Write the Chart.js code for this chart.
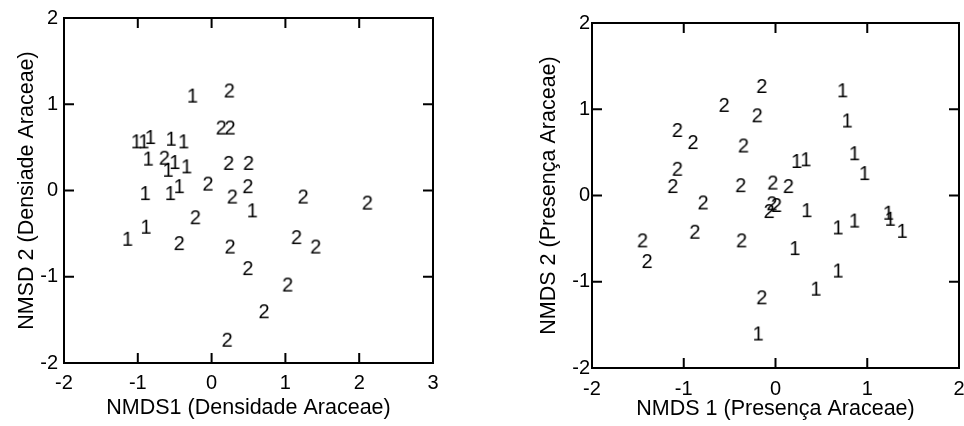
<!DOCTYPE html>
<html><head><meta charset="utf-8">
<script src="https://cdn.jsdelivr.net/npm/chart.js@4/dist/chart.umd.min.js"></script>
<style>
html,body{margin:0;padding:0;background:#fff;}
#wrap{position:relative;width:964px;height:426px;overflow:hidden;}
.c{position:absolute;top:0;width:482px;height:426px;}
</style></head><body>
<div id="wrap">
<div class="c" style="left:0"><canvas id="c1" width="482" height="426"></canvas></div>
<div class="c" style="left:482px"><canvas id="c2" width="482" height="426"></canvas></div>
</div>
<script>
// ---- data: NMDS (Densidade Araceae) ----
const dens1X = [-0.26, -1.02, -0.92, -0.83, -0.55, -0.38, -0.86, -0.59, -0.50, -0.34, -0.90, -0.56, -0.44, 0.55, -0.89, -1.14];
const dens1Y = [1.10, 0.57, 0.57, 0.62, 0.60, 0.57, 0.37, 0.24, 0.33, 0.28, -0.03, -0.03, 0.05, -0.23, -0.42, -0.56];
const dens2X = [0.24, 0.13, 0.25, -0.64, 0.23, 0.50, -0.05, 0.49, 0.28, 1.24, 2.11, -0.22, -0.44, 0.25, 1.15, 1.41, 0.49, 1.03, 0.71, 0.21];
const dens2Y = [1.16, 0.73, 0.73, 0.38, 0.32, 0.32, 0.08, 0.05, -0.07, -0.07, -0.14, -0.31, -0.61, -0.65, -0.54, -0.65, -0.90, -1.09, -1.40, -1.73];
// ---- data: NMDS (Presença Araceae) ----
const pres1X = [0.73, 0.78, 0.23, 0.33, 0.86, 0.97, 0.34, 0.68, 0.86, 1.23, 1.25, 1.38, 0.21, 0.68, 0.44, -0.19];
const pres1Y = [1.22, 0.87, 0.40, 0.42, 0.49, 0.26, -0.17, -0.37, -0.29, -0.20, -0.27, -0.41, -0.61, -0.87, -1.08, -1.60];
const pres2X = [-0.15, -0.56, -0.20, -1.07, -0.90, -0.35, -1.07, -1.12, -0.38, -0.03, 0.14, -0.79, -0.04, 0.01, -0.07, -1.45, -0.88, -0.37, -1.40, -0.15];
const pres2Y = [1.27, 1.05, 0.93, 0.76, 0.62, 0.58, 0.31, 0.11, 0.12, 0.15, 0.11, -0.08, -0.09, -0.11, -0.18, -0.52, -0.42, -0.52, -0.76, -1.18];
// ---- group labels & ticks ----
const groupLabels = ['1', '2'];
const densXTicks = [-2, -1, 0, 1, 2, 3];
const presXTicks = [-2, -1, 0, 1, 2];
const yTicks = [-2, -1, 0, 1, 2];
const densTitles = ['NMDS1 (Densidade Araceae)', 'NMSD 2 (Densiade Araceae)'];
const presTitles = ['NMDS 1 (Presença Araceae)', 'NMDS 2 (Presença Araceae)'];

const FONT = '"Liberation Sans", Arial, Helvetica, sans-serif';

function glyph(ch) {
  const size = 20;
  const c = document.createElement('canvas');
  c.width = 22; c.height = 26;
  const g = c.getContext('2d');
  g.font = size + 'px ' + FONT;
  g.fillStyle = '#000';
  g.textAlign = 'center';
  g.textBaseline = 'alphabetic';
  g.fillText(ch, 11, 13 + 0.716 * size / 2);
  return c;
}

const framePlugin = {
  id: 'frame',
  afterDatasetsDraw(chart) {
    const {ctx, chartArea: a, scales: {x, y}} = chart;
    ctx.save();
    ctx.strokeStyle = '#000';
    ctx.lineWidth = 2;
    ctx.strokeRect(a.left, a.top, a.right - a.left, a.bottom - a.top);
    ctx.beginPath();
    x.ticks.forEach(t => {
      const px = x.getPixelForValue(t.value);
      ctx.moveTo(px, a.bottom); ctx.lineTo(px, a.bottom - 10);
      ctx.moveTo(px, a.top); ctx.lineTo(px, a.top + 10);
    });
    y.ticks.forEach(t => {
      const py = y.getPixelForValue(t.value);
      ctx.moveTo(a.left, py); ctx.lineTo(a.left + 10, py);
      ctx.moveTo(a.right, py); ctx.lineTo(a.right - 10, py);
    });
    ctx.stroke();
    ctx.restore();
  }
};

function pts(xs, ys) { return xs.map((v, i) => ({x: v, y: ys[i]})); }

function makeChart(id, g1x, g1y, g2x, g2y, xTicks, titles, L) {
  return new Chart(document.getElementById(id), {
    type: 'scatter',
    data: {
      datasets: [
        {label: groupLabels[0], data: pts(g1x, g1y), pointStyle: glyph(groupLabels[0]), pointRadius: 3},
        {label: groupLabels[1], data: pts(g2x, g2y), pointStyle: glyph(groupLabels[1]), pointRadius: 3}
      ]
    },
    options: {
      responsive: false,
      animation: false,
      events: [],
      layout: {padding: {left: 0, right: L.padRight, top: L.padTop, bottom: 0}},
      plugins: {legend: {display: false}, tooltip: {enabled: false}},
      scales: {
        x: {
          type: 'linear', position: 'bottom',
          min: xTicks[0], max: xTicks[xTicks.length - 1],
          afterBuildTicks: s => { s.ticks = xTicks.map(v => ({value: v})); },
          ticks: {color: '#000', font: {family: FONT, size: 20}, padding: L.xTickPad, maxRotation: 0, autoSkip: false, callback: v => String(v)},
          grid: {display: false, drawTicks: false},
          border: {display: false},
          title: {display: true, text: titles[0], color: '#000', font: {family: FONT, size: 21.5}, padding: {top: 0, bottom: L.xTitlePad}},
          afterFit: s => { s.height = L.xAxisH; s.paddingLeft = 0; s.paddingRight = 0; }
        },
        y: {
          type: 'linear', position: 'left',
          min: -2, max: 2,
          afterBuildTicks: s => { s.ticks = yTicks.map(v => ({value: v})); },
          ticks: {color: '#000', font: {family: FONT, size: 20}, padding: L.yTickPad, autoSkip: false, callback: v => String(v)},
          grid: {display: false, drawTicks: false},
          border: {display: false},
          title: {display: true, text: titles[1], color: '#000', font: {family: FONT, size: 21.5}, padding: {top: L.yTitlePad, bottom: 0}},
          afterFit: s => { s.width = L.yAxisW; s.paddingTop = 0; s.paddingBottom = 0; }
        }
      }
    },
    plugins: [framePlugin]
  });
}

makeChart('c1', dens1X, dens1Y, dens2X, dens2Y, densXTicks, densTitles,
  {padRight: 49, padTop: 18, xAxisH: 63, yAxisW: 64, xTickPad: 8, yTickPad: 6, xTitlePad: 4.9, yTitlePad: 14});
makeChart('c2', pres1X, pres1Y, pres2X, pres2Y, presXTicks, presTitles,
  {padRight: 3, padTop: 23, xAxisH: 58, yAxisW: 110, xTickPad: 9.7, yTickPad: 2, xTitlePad: 4.2, yTitlePad: 54.4});
</script>
</body></html>
